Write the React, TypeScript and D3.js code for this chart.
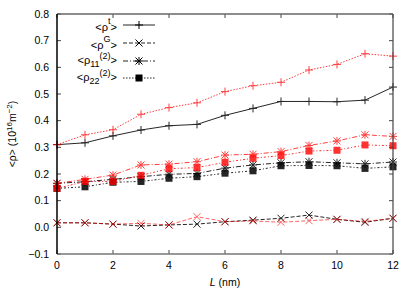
import React from "react";
import * as d3 from "d3";

const L = [0, 1, 2, 3, 4, 5, 6, 7, 8, 9, 10, 11, 12];
const rhoTBlack = [0.31, 0.317, 0.343, 0.365, 0.381, 0.386, 0.42, 0.446, 0.472, 0.472, 0.471, 0.477, 0.526];
const rhoTRed = [0.31, 0.347, 0.366, 0.424, 0.449, 0.467, 0.509, 0.531, 0.544, 0.59, 0.611, 0.651, 0.642];
const rhoGBlack = [0.017, 0.017, 0.012, 0.005, 0.009, 0.012, 0.021, 0.027, 0.034, 0.046, 0.03, 0.019, 0.034];
const rhoGRed = [0.017, 0.017, 0.012, 0.015, 0.009, 0.04, 0.021, 0.024, 0.019, 0.025, 0.03, 0.022, 0.034];
const rho11Black = [0.165, 0.171, 0.18, 0.19, 0.199, 0.202, 0.222, 0.234, 0.242, 0.246, 0.242, 0.238, 0.245];
const rho11Red = [0.165, 0.18, 0.196, 0.234, 0.237, 0.246, 0.271, 0.274, 0.284, 0.307, 0.324, 0.347, 0.341];
const rho22Black = [0.146, 0.152, 0.169, 0.172, 0.184, 0.19, 0.203, 0.212, 0.231, 0.232, 0.231, 0.221, 0.227];
const rho22Red = [0.146, 0.172, 0.172, 0.195, 0.22, 0.224, 0.244, 0.259, 0.269, 0.286, 0.289, 0.309, 0.306];

const xTicks = [0, 2, 4, 6, 8, 10, 12];
const yTicks = [-0.1, 0, 0.1, 0.2, 0.3, 0.4, 0.5, 0.6, 0.7, 0.8];

type Marker = "plus" | "cross" | "star" | "square";

const W = 415;
const H = 291;
const left = 57;
const right = 393;
const top = 14;
const bottom = 254;

const x = d3.scaleLinear().domain([0, 12]).range([left, right]);
const y = d3.scaleLinear().domain([-0.1, 0.8]).range([bottom, top]);

function MarkerShape({ kind, cx, cy, color, sw }: { kind: Marker; cx: number; cy: number; color: string; sw: number }) {
  const r = 3.5;
  if (kind === "square") {
    return <rect x={cx - 3.5} y={cy - 3.5} width={7} height={7} fill={color} />;
  }
  const segs: [number, number, number, number][] = [];
  if (kind === "plus" || kind === "star") {
    segs.push([cx - r - 0.5, cy, cx + r + 0.5, cy]);
    segs.push([cx, cy - r - 0.5, cx, cy + r + 0.5]);
  }
  if (kind === "cross" || kind === "star") {
    segs.push([cx - r, cy - r, cx + r, cy + r]);
    segs.push([cx - r, cy + r, cx + r, cy - r]);
  }
  return (
    <g stroke={color} strokeWidth={sw}>
      {segs.map((s, i) => (
        <line key={i} x1={s[0]} y1={s[1]} x2={s[2]} y2={s[3]} />
      ))}
    </g>
  );
}

interface Series {
  values: number[];
  color: string;
  dash: string | undefined;
  marker: Marker;
  opacity: number;
}

const series: Series[] = [
  { values: rhoTBlack, color: "#000", dash: undefined, marker: "plus", opacity: 0.85 },
  { values: rhoGBlack, color: "#000", dash: "4,2", marker: "cross", opacity: 0.85 },
  { values: rho11Black, color: "#000", dash: "5,2,1,2", marker: "star", opacity: 0.85 },
  { values: rho22Black, color: "#000", dash: "2,2,1,2", marker: "square", opacity: 0.85 },
  { values: rhoTRed, color: "#ff0000", dash: "1.5,1.5", marker: "plus", opacity: 0.75 },
  { values: rhoGRed, color: "#ff0000", dash: "4,2", marker: "cross", opacity: 0.6 },
  { values: rho11Red, color: "#ff0000", dash: "5,2,1,2", marker: "star", opacity: 0.75 },
  { values: rho22Red, color: "#ff0000", dash: "2,2,1,2", marker: "square", opacity: 0.8 },
];

const legend: { key: string; dash: string | undefined; marker: Marker }[] = [
  { key: "t", dash: undefined, marker: "plus" },
  { key: "G", dash: "4,2", marker: "cross" },
  { key: "11", dash: "5,2,1,2", marker: "star" },
  { key: "22", dash: "1.5,1.5", marker: "square" },
];

function LegendLabel({ k, ly }: { k: string; ly: number }) {
  if (k === "t" || k === "G") {
    return (
      <text x={117} y={ly + 6} textAnchor="end" fontSize={11}>
        {"<ρ"}
        <tspan dy={-7} fontSize={9}>{k}</tspan>
        <tspan dy={7}>{">"}</tspan>
      </text>
    );
  }
  return (
    <text x={117} y={ly + 3} textAnchor="end" fontSize={11}>
      {"<ρ"}
      <tspan dy={3} fontSize={9}>{k}</tspan>
      <tspan dy={-8} fontSize={9}>{"(2)"}</tspan>
      <tspan dy={5}>{">"}</tspan>
    </text>
  );
}

export default function App() {
  const line = d3
    .line<number>()
    .x((_, i) => x(L[i]))
    .y((v) => y(v));
  const legendYs = [25, 43, 61, 78];
  return (
    <svg width={W} height={H} style={{ position: "absolute", left: 0, top: 0, fontFamily: "'Liberation Sans', Arial, sans-serif" }}>
      <rect x={0} y={0} width={W} height={H} fill="#fff" />
      {/* ticks */}
      <g stroke="#444" strokeWidth={1}>
        {xTicks.map((t) => (
          <g key={"xt" + t}>
            <line x1={x(t)} x2={x(t)} y1={bottom} y2={bottom - 4} />
            <line x1={x(t)} x2={x(t)} y1={top} y2={top + 4} />
          </g>
        ))}
        {yTicks.map((t) => (
          <g key={"yt" + t}>
            <line x1={left} x2={left + 4} y1={y(t)} y2={y(t)} />
            <line x1={right} x2={right - 4} y1={y(t)} y2={y(t)} />
          </g>
        ))}
      </g>
      {/* tick labels */}
      <g fontSize={10.5} fill="#000">
        {xTicks.map((t) => (
          <text key={"xl" + t} x={x(t)} y={bottom + 15} textAnchor="middle">
            {t}
          </text>
        ))}
        {yTicks.map((t) => (
          <text key={"yl" + t} x={left - 8} y={y(t) + 3.8} textAnchor="end">
            {d3.format(".1f")(t).replace("-", "−")}
          </text>
        ))}
      </g>
      {/* series */}
      {series.map((s, si) => (
        <g key={"s" + si} opacity={s.opacity}>
          <path d={line(s.values) || ""} fill="none" stroke={s.color} strokeWidth={1} strokeDasharray={s.dash} />
          {s.values.map((v, i) => (
            <MarkerShape key={i} kind={s.marker} cx={x(L[i])} cy={y(v)} color={s.color} sw={1} />
          ))}
        </g>
      ))}
      {/* border */}
      <line x1={left} x2={right} y1={top} y2={top} stroke="#666" strokeWidth={1.5} />
      <line x1={left} x2={right} y1={bottom} y2={bottom} stroke="#777" strokeWidth={1.5} />
      <line x1={right} x2={right} y1={top} y2={bottom} stroke="#444" strokeWidth={1.2} />
      <line x1={left} x2={left} y1={top} y2={bottom} stroke="#000" strokeWidth={1.5} />
      {/* legend */}
      {legend.map((l, i) => (
        <g key={"lg" + i}>
          <LegendLabel k={l.key} ly={legendYs[i]} />
          <line x1={123} x2={155} y1={legendYs[i]} y2={legendYs[i]} stroke="#000" opacity={0.85} strokeDasharray={l.dash} />
          <MarkerShape kind={l.marker} cx={139} cy={legendYs[i]} color="#000" sw={1} />
        </g>
      ))}
      {/* axis labels */}
      <text x={225} y={286} textAnchor="middle" fontSize={10.5}>
        <tspan fontStyle="italic">L</tspan>
        {" (nm)"}
      </text>
      <text transform={`translate(16,${(top + bottom) / 2}) rotate(-90)`} textAnchor="middle" fontSize={10.5}>
        {"<ρ> (10"}
        <tspan dy={-4} fontSize={8}>16</tspan>
        <tspan dy={4}>{"m"}</tspan>
        <tspan dy={-4} fontSize={8}>{"−2"}</tspan>
        <tspan dy={4}>{")"}</tspan>
      </text>
    </svg>
  );
}
